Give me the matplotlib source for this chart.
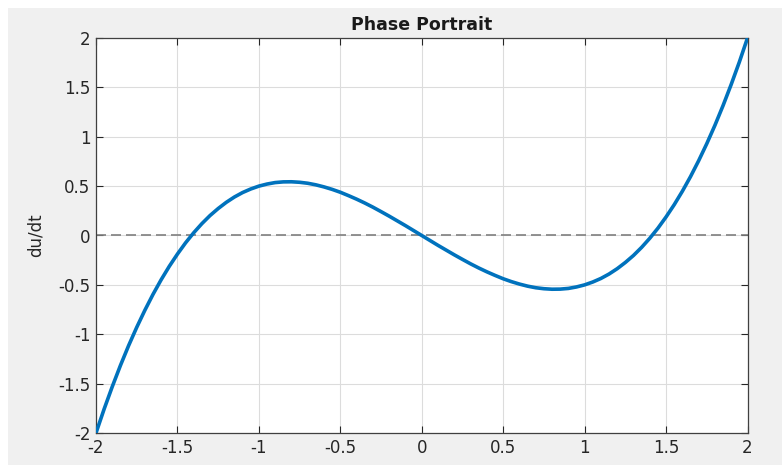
import matplotlib
matplotlib.use("Agg")
import matplotlib.pyplot as plt
from matplotlib.patches import Rectangle

plt.rcParams['font.family'] = ['DejaVu Sans']

# valores (paso 0.05)
u = [-2.0, -1.95, -1.9, -1.85, -1.8, -1.75, -1.7, -1.65, -1.6, -1.55, -1.5,
     -1.45, -1.4, -1.35, -1.3, -1.25, -1.2, -1.15, -1.1, -1.05, -1.0,
     -0.95, -0.9, -0.85, -0.8, -0.75, -0.7, -0.65, -0.6, -0.55, -0.5,
     -0.45, -0.4, -0.35, -0.3, -0.25, -0.2, -0.15, -0.1, -0.05, 0.0,
     0.05, 0.1, 0.15, 0.2, 0.25, 0.3, 0.35, 0.4, 0.45, 0.5,
     0.55, 0.6, 0.65, 0.7, 0.75, 0.8, 0.85, 0.9, 0.95, 1.0,
     1.05, 1.1, 1.15, 1.2, 1.25, 1.3, 1.35, 1.4, 1.45, 1.5,
     1.55, 1.6, 1.65, 1.7, 1.75, 1.8, 1.85, 1.9, 1.95, 2.0]
dudt = [-2.000, -1.757, -1.530, -1.316, -1.116, -0.930, -0.757, -0.596, -0.448, -0.312, -0.188,
        -0.074, 0.028, 0.120, 0.202, 0.273, 0.336, 0.390, 0.435, 0.471, 0.500,
        0.521, 0.536, 0.543, 0.544, 0.539, 0.529, 0.513, 0.492, 0.467, 0.438,
        0.404, 0.368, 0.329, 0.287, 0.242, 0.196, 0.148, 0.100, 0.050, 0.000,
        -0.050, -0.100, -0.148, -0.196, -0.242, -0.287, -0.329, -0.368, -0.404, -0.438,
        -0.467, -0.492, -0.513, -0.529, -0.539, -0.544, -0.543, -0.536, -0.521, -0.500,
        -0.471, -0.435, -0.390, -0.336, -0.273, -0.202, -0.120, -0.028, 0.074, 0.188,
        0.312, 0.448, 0.596, 0.757, 0.930, 1.116, 1.316, 1.530, 1.757, 2.000]
xticks = [-2, -1.5, -1, -0.5, 0, 0.5, 1, 1.5, 2]
yticks = [-2, -1.5, -1, -0.5, 0, 0.5, 1, 1.5, 2]
ticklabels = ['-2', '-1.5', '-1', '-0.5', '0', '0.5', '1', '1.5', '2']

fig = plt.figure(figsize=(7.82, 4.65), dpi=100, facecolor='white')
# fondo gris estilo MATLAB (borde blanco arriba e izquierda)
fig.patches.append(Rectangle((8/782, 0), 1, 1 - 8/465, transform=fig.transFigure,
                             facecolor='#f0f0f0', edgecolor='none', zorder=-10))

ax = fig.add_axes([96/782, 32/465, (747.5-96)/782, (433-38)/465])
ax.set_facecolor('white')
ax.plot(u, dudt, color='#0072BD', linewidth=2.6, zorder=3)
ax.plot([-2, 2], [0, 0], color='#808080', linestyle=(0, (6, 3)), linewidth=1.2, zorder=2)

ax.set_xlim(-2, 2)
ax.set_ylim(-2, 2)
ax.set_xticks(xticks)
ax.set_yticks(yticks)
ax.set_xticklabels(ticklabels)
ax.set_yticklabels(ticklabels)
ax.tick_params(direction='in', top=True, right=True, length=5, width=0.8,
               colors='#262626', labelsize=12, pad=4)
ax.grid(True, color='#dcdcdc', linewidth=0.8)
for s in ax.spines.values():
    s.set_color('#404040')
    s.set_linewidth(0.9)

ax.set_title('Phase Portrait', fontsize=12.5, fontweight='bold', color='#1a1a1a', pad=6)
ax.set_ylabel('du/dt', fontsize=12, color='#262626', labelpad=10)

fig.savefig('out.png', dpi=100, facecolor=fig.get_facecolor())
plt.close()
